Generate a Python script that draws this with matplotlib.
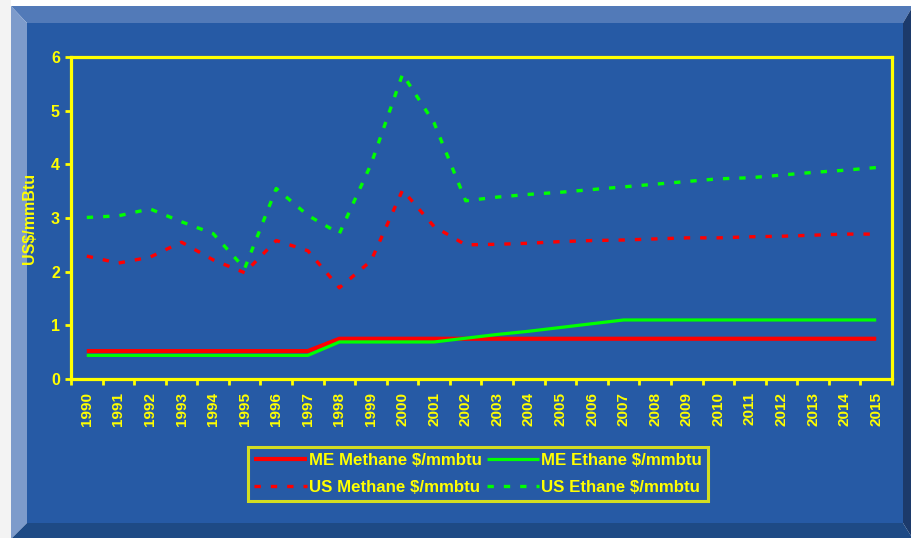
import matplotlib
matplotlib.use("Agg")
import matplotlib.pyplot as plt
from matplotlib.patches import Polygon, Rectangle
import numpy as np

# ── data ────────────────────────────────────────────────────────────────────
years = [str(y) for y in range(1990, 2016)]

me_methane = [0.52] * 8 + [0.75] * 18
me_ethane = [0.44] * 8 + [0.69, 0.69, 0.69, 0.69, 0.76, 0.83, 0.89, 0.96, 1.03,
                          1.10, 1.10, 1.10, 1.10, 1.10, 1.10, 1.10, 1.10, 1.10]
us_methane = [2.29, 2.16, 2.27, 2.55, 2.22, 1.98, 2.58, 2.39, 1.70, 2.20,
              3.52, 2.84, 2.50, 2.51, 2.53, 2.56, 2.58, 2.59, 2.61, 2.63,
              2.63, 2.65, 2.66, 2.68, 2.70, 2.70]
us_ethane = [3.01, 3.04, 3.17, 2.93, 2.71, 2.06, 3.55, 3.05, 2.71, 4.00,
             5.68, 4.77, 3.32, 3.39, 3.44, 3.48, 3.53, 3.58, 3.63, 3.68,
             3.73, 3.75, 3.80, 3.85, 3.89, 3.94]

y_ticks = [0, 1, 2, 3, 4, 5, 6]

# ── style ───────────────────────────────────────────────────────────────────
W, H = 912, 538
YEL = "#ffff00"
FACE = "#265aa5"
RED = "#ff0000"
GRN = "#00ff00"
plt.rcParams["font.family"] = ["Liberation Sans", "DejaVu Sans"]
plt.rcParams["font.weight"] = "bold"


def fx(px):
    return px / W


def fy(py):
    return 1 - py / H


def poly(fig, pts, color):
    fig.patches.append(Polygon([(fx(x), fy(y)) for x, y in pts], closed=True,
                               transform=fig.transFigure, facecolor=color,
                               edgecolor="none", zorder=-10))


fig = plt.figure(figsize=(W / 100, H / 100), dpi=100, facecolor="white")

# beveled frame
fig.patches.append(Rectangle((0, 0), fx(11), 1, transform=fig.transFigure,
                             facecolor="#f3f3f3", edgecolor="none", zorder=-10))
ox0, ox1, oy0, oy1 = 11, 913, 6, 539
ix0, ix1, iy0, iy1 = 27, 903, 23, 523
poly(fig, [(ix0, iy0), (ix1, iy0), (ix1, iy1), (ix0, iy1)], FACE)
poly(fig, [(ox0, oy0), (ox1, oy0), (ix1, iy0), (ix0, iy0)], "#527ab8")
poly(fig, [(ox0, oy0), (ix0, iy0), (ix0, iy1), (ox0, oy1)], "#7d9bcb")
poly(fig, [(ox1, oy0), (ox1, oy1), (ix1, iy1), (ix1, iy0)], "#1c3a6b")
poly(fig, [(ox0, oy1), (ix0, iy1), (ix1, iy1), (ox1, oy1)], "#1e4a85")

ax = fig.add_axes([fx(71), fy(379), fx(892) - fx(71), fy(57) - fy(379)])
ax.set_facecolor("none")
ax.set_zorder(5)

x = np.arange(len(years))
ax.plot(x, me_methane, color=RED, lw=3.0, solid_capstyle="butt", label="ME Methane $/mmbtu")
ax.plot(x, me_ethane, color=GRN, lw=2.3, solid_capstyle="butt", label="ME Ethane $/mmbtu")
ax.plot(x, us_methane, color=RED, lw=2.4, dashes=(1.9, 3.0), label="US Methane $/mmbtu")
ax.plot(x, us_ethane, color=GRN, lw=2.4, dashes=(1.9, 3.0), label="US Ethane $/mmbtu")

ax.set_xlim(-0.5, len(years) - 0.5)
ax.set_ylim(0, 6)
ax.set_yticks(y_ticks)
ax.set_xticks(x)
ax.set_xticklabels(years, rotation=90)
ax.set_xticks(np.arange(-0.5, len(years)), minor=True)

for s in ax.spines.values():
    s.set_color(YEL)
    s.set_linewidth(2.3)

ax.tick_params(axis="x", which="major", length=0, pad=9.5, labelsize=11, labelcolor=YEL)
ax.tick_params(axis="x", which="minor", length=4, width=2, color=YEL, direction="out")
ax.tick_params(axis="y", length=4, width=2, color=YEL, pad=4, labelsize=11.5, labelcolor=YEL)
for lab in ax.get_xticklabels() + ax.get_yticklabels():
    lab.set_fontweight("bold")

ax.set_ylabel("US$/mmBtu", color=YEL, fontsize=11.5, fontweight="bold", labelpad=10)

h, l = ax.get_legend_handles_labels()
order = [0, 2, 1, 3]
leg = fig.legend([h[i] for i in order], [l[i] for i in order], ncol=2,
                 loc="center", bbox_to_anchor=(fx(478), fy(474)),
                 frameon=True, fancybox=False, facecolor="none", edgecolor=YEL,
                 fontsize=12.2, handlelength=3.1, handletextpad=0.1,
                 columnspacing=0.3, labelspacing=0.75, borderpad=0.35)
leg.get_frame().set_linewidth(2.2)
for t in leg.get_texts():
    t.set_color(YEL)
    t.set_fontweight("bold")

fig.savefig("out.png", dpi=100, facecolor=fig.get_facecolor())
